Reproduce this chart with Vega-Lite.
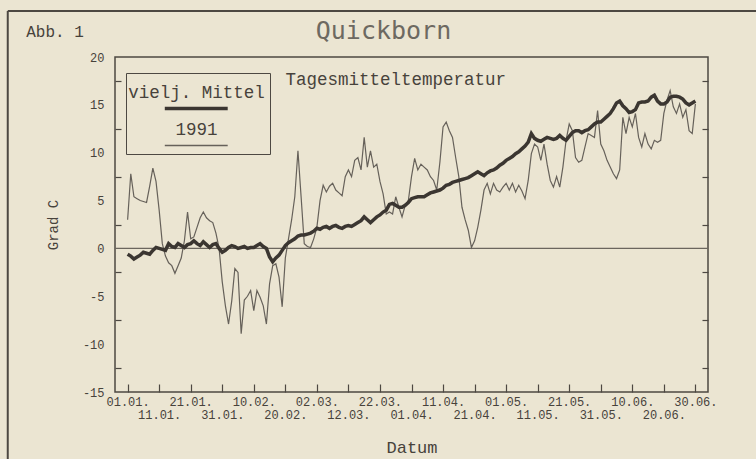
{
  "$schema": "https://vega.github.io/schema/vega-lite/v6.json",
  "width": 593,
  "height": 335,
  "autosize": "none",
  "padding": {"left": 115, "top": 57, "right": 48, "bottom": 67},
  "background": "#ebe5d2",
  "title": {"text": "Quickborn", "frame": "group", "font": "DejaVu Sans Mono", "fontSize": 25, "fontWeight": "normal", "color": "#6d6961", "anchor": "middle", "dx": -28, "offset": -34},
  "data": {"values": [
    {"tag":"1991-01-01","mittel":-0.6,"jahr1991":3.0},
    {"tag":"1991-01-02","mittel":-0.8,"jahr1991":7.8},
    {"tag":"1991-01-03","mittel":-1.1,"jahr1991":5.4},
    {"tag":"1991-01-04","mittel":-0.9,"jahr1991":5.2},
    {"tag":"1991-01-05","mittel":-0.7,"jahr1991":5.0},
    {"tag":"1991-01-06","mittel":-0.4,"jahr1991":4.9},
    {"tag":"1991-01-07","mittel":-0.5,"jahr1991":4.8},
    {"tag":"1991-01-08","mittel":-0.6,"jahr1991":6.5},
    {"tag":"1991-01-09","mittel":-0.2,"jahr1991":8.4},
    {"tag":"1991-01-10","mittel":0.1,"jahr1991":7.0},
    {"tag":"1991-01-11","mittel":0.0,"jahr1991":4.0},
    {"tag":"1991-01-12","mittel":-0.1,"jahr1991":0.5},
    {"tag":"1991-01-13","mittel":-0.2,"jahr1991":-0.8},
    {"tag":"1991-01-14","mittel":0.5,"jahr1991":-1.5},
    {"tag":"1991-01-15","mittel":0.2,"jahr1991":-1.8},
    {"tag":"1991-01-16","mittel":0.1,"jahr1991":-2.6},
    {"tag":"1991-01-17","mittel":0.5,"jahr1991":-1.8},
    {"tag":"1991-01-18","mittel":0.3,"jahr1991":-1.0},
    {"tag":"1991-01-19","mittel":0.1,"jahr1991":0.8},
    {"tag":"1991-01-20","mittel":0.4,"jahr1991":3.8},
    {"tag":"1991-01-21","mittel":0.5,"jahr1991":1.0},
    {"tag":"1991-01-22","mittel":0.8,"jahr1991":1.2},
    {"tag":"1991-01-23","mittel":0.5,"jahr1991":2.2},
    {"tag":"1991-01-24","mittel":0.3,"jahr1991":3.2},
    {"tag":"1991-01-25","mittel":0.7,"jahr1991":3.8},
    {"tag":"1991-01-26","mittel":0.4,"jahr1991":3.2},
    {"tag":"1991-01-27","mittel":0.1,"jahr1991":2.9},
    {"tag":"1991-01-28","mittel":0.4,"jahr1991":2.7},
    {"tag":"1991-01-29","mittel":0.5,"jahr1991":1.6},
    {"tag":"1991-01-30","mittel":0.0,"jahr1991":0.0},
    {"tag":"1991-01-31","mittel":-0.4,"jahr1991":-3.5},
    {"tag":"1991-02-01","mittel":-0.2,"jahr1991":-6.0},
    {"tag":"1991-02-02","mittel":0.1,"jahr1991":-7.9},
    {"tag":"1991-02-03","mittel":0.3,"jahr1991":-5.5},
    {"tag":"1991-02-04","mittel":0.2,"jahr1991":-2.1},
    {"tag":"1991-02-05","mittel":0.0,"jahr1991":-2.5},
    {"tag":"1991-02-06","mittel":0.1,"jahr1991":-8.9},
    {"tag":"1991-02-07","mittel":0.2,"jahr1991":-5.4},
    {"tag":"1991-02-08","mittel":0.0,"jahr1991":-5.0},
    {"tag":"1991-02-09","mittel":0.1,"jahr1991":-4.4},
    {"tag":"1991-02-10","mittel":0.1,"jahr1991":-6.5},
    {"tag":"1991-02-11","mittel":0.3,"jahr1991":-4.4},
    {"tag":"1991-02-12","mittel":0.5,"jahr1991":-5.1},
    {"tag":"1991-02-13","mittel":0.2,"jahr1991":-6.0},
    {"tag":"1991-02-14","mittel":0.0,"jahr1991":-7.9},
    {"tag":"1991-02-15","mittel":-0.9,"jahr1991":-3.7},
    {"tag":"1991-02-16","mittel":-1.4,"jahr1991":-1.8},
    {"tag":"1991-02-17","mittel":-1.0,"jahr1991":-1.6},
    {"tag":"1991-02-18","mittel":-0.7,"jahr1991":-3.0},
    {"tag":"1991-02-19","mittel":-0.2,"jahr1991":-6.1},
    {"tag":"1991-02-20","mittel":0.3,"jahr1991":-1.0},
    {"tag":"1991-02-21","mittel":0.6,"jahr1991":1.0},
    {"tag":"1991-02-22","mittel":0.8,"jahr1991":3.0},
    {"tag":"1991-02-23","mittel":1.0,"jahr1991":5.4},
    {"tag":"1991-02-24","mittel":1.3,"jahr1991":10.2},
    {"tag":"1991-02-25","mittel":1.4,"jahr1991":5.4},
    {"tag":"1991-02-26","mittel":1.4,"jahr1991":0.5},
    {"tag":"1991-02-27","mittel":1.5,"jahr1991":0.2},
    {"tag":"1991-02-28","mittel":1.6,"jahr1991":0.1},
    {"tag":"1991-03-01","mittel":1.8,"jahr1991":1.0},
    {"tag":"1991-03-02","mittel":2.1,"jahr1991":2.2},
    {"tag":"1991-03-03","mittel":2.0,"jahr1991":5.0},
    {"tag":"1991-03-04","mittel":2.2,"jahr1991":6.6},
    {"tag":"1991-03-05","mittel":2.3,"jahr1991":5.9},
    {"tag":"1991-03-06","mittel":2.1,"jahr1991":6.5},
    {"tag":"1991-03-07","mittel":2.3,"jahr1991":6.8},
    {"tag":"1991-03-08","mittel":2.4,"jahr1991":6.1},
    {"tag":"1991-03-09","mittel":2.2,"jahr1991":5.8},
    {"tag":"1991-03-10","mittel":2.1,"jahr1991":5.5},
    {"tag":"1991-03-11","mittel":2.3,"jahr1991":7.5},
    {"tag":"1991-03-12","mittel":2.4,"jahr1991":8.2},
    {"tag":"1991-03-13","mittel":2.3,"jahr1991":7.5},
    {"tag":"1991-03-14","mittel":2.5,"jahr1991":9.2},
    {"tag":"1991-03-15","mittel":2.7,"jahr1991":9.5},
    {"tag":"1991-03-16","mittel":2.9,"jahr1991":8.2},
    {"tag":"1991-03-17","mittel":3.3,"jahr1991":11.6},
    {"tag":"1991-03-18","mittel":3.0,"jahr1991":8.5},
    {"tag":"1991-03-19","mittel":2.7,"jahr1991":10.2},
    {"tag":"1991-03-20","mittel":3.0,"jahr1991":8.5},
    {"tag":"1991-03-21","mittel":3.3,"jahr1991":8.8},
    {"tag":"1991-03-22","mittel":3.5,"jahr1991":7.0},
    {"tag":"1991-03-23","mittel":3.8,"jahr1991":5.7},
    {"tag":"1991-03-24","mittel":4.0,"jahr1991":3.6},
    {"tag":"1991-03-25","mittel":4.6,"jahr1991":3.8},
    {"tag":"1991-03-26","mittel":4.7,"jahr1991":3.6},
    {"tag":"1991-03-27","mittel":4.5,"jahr1991":5.4},
    {"tag":"1991-03-28","mittel":4.3,"jahr1991":4.3},
    {"tag":"1991-03-29","mittel":4.3,"jahr1991":3.3},
    {"tag":"1991-03-30","mittel":4.5,"jahr1991":4.5},
    {"tag":"1991-03-31","mittel":4.8,"jahr1991":5.0},
    {"tag":"1991-04-01","mittel":5.2,"jahr1991":7.5},
    {"tag":"1991-04-02","mittel":5.3,"jahr1991":9.4},
    {"tag":"1991-04-03","mittel":5.4,"jahr1991":8.2},
    {"tag":"1991-04-04","mittel":5.4,"jahr1991":8.8},
    {"tag":"1991-04-05","mittel":5.4,"jahr1991":8.5},
    {"tag":"1991-04-06","mittel":5.6,"jahr1991":8.2},
    {"tag":"1991-04-07","mittel":5.8,"jahr1991":7.5},
    {"tag":"1991-04-08","mittel":5.9,"jahr1991":7.1},
    {"tag":"1991-04-09","mittel":6.0,"jahr1991":6.1},
    {"tag":"1991-04-10","mittel":6.1,"jahr1991":9.0},
    {"tag":"1991-04-11","mittel":6.3,"jahr1991":12.7},
    {"tag":"1991-04-12","mittel":6.6,"jahr1991":13.2},
    {"tag":"1991-04-13","mittel":6.7,"jahr1991":12.3},
    {"tag":"1991-04-14","mittel":6.9,"jahr1991":11.6},
    {"tag":"1991-04-15","mittel":7.0,"jahr1991":9.5},
    {"tag":"1991-04-16","mittel":7.1,"jahr1991":7.5},
    {"tag":"1991-04-17","mittel":7.2,"jahr1991":4.3},
    {"tag":"1991-04-18","mittel":7.3,"jahr1991":3.0},
    {"tag":"1991-04-19","mittel":7.4,"jahr1991":1.9},
    {"tag":"1991-04-20","mittel":7.6,"jahr1991":0.1},
    {"tag":"1991-04-21","mittel":7.8,"jahr1991":0.8},
    {"tag":"1991-04-22","mittel":8.0,"jahr1991":2.2},
    {"tag":"1991-04-23","mittel":7.8,"jahr1991":4.0},
    {"tag":"1991-04-24","mittel":7.6,"jahr1991":6.1},
    {"tag":"1991-04-25","mittel":7.9,"jahr1991":6.8},
    {"tag":"1991-04-26","mittel":8.1,"jahr1991":5.7},
    {"tag":"1991-04-27","mittel":8.2,"jahr1991":6.8},
    {"tag":"1991-04-28","mittel":8.4,"jahr1991":6.1},
    {"tag":"1991-04-29","mittel":8.7,"jahr1991":5.9},
    {"tag":"1991-04-30","mittel":8.9,"jahr1991":6.4},
    {"tag":"1991-05-01","mittel":9.2,"jahr1991":6.8},
    {"tag":"1991-05-02","mittel":9.4,"jahr1991":6.1},
    {"tag":"1991-05-03","mittel":9.6,"jahr1991":6.8},
    {"tag":"1991-05-04","mittel":9.9,"jahr1991":5.9},
    {"tag":"1991-05-05","mittel":10.1,"jahr1991":6.6},
    {"tag":"1991-05-06","mittel":10.4,"jahr1991":6.0},
    {"tag":"1991-05-07","mittel":10.7,"jahr1991":5.2},
    {"tag":"1991-05-08","mittel":11.1,"jahr1991":7.1},
    {"tag":"1991-05-09","mittel":12.0,"jahr1991":9.9},
    {"tag":"1991-05-10","mittel":11.5,"jahr1991":10.9},
    {"tag":"1991-05-11","mittel":11.3,"jahr1991":10.6},
    {"tag":"1991-05-12","mittel":11.2,"jahr1991":9.2},
    {"tag":"1991-05-13","mittel":11.4,"jahr1991":10.9},
    {"tag":"1991-05-14","mittel":11.6,"jahr1991":8.8},
    {"tag":"1991-05-15","mittel":11.5,"jahr1991":7.1},
    {"tag":"1991-05-16","mittel":11.4,"jahr1991":6.4},
    {"tag":"1991-05-17","mittel":11.5,"jahr1991":7.5},
    {"tag":"1991-05-18","mittel":11.8,"jahr1991":6.4},
    {"tag":"1991-05-19","mittel":11.5,"jahr1991":8.5},
    {"tag":"1991-05-20","mittel":11.3,"jahr1991":11.3},
    {"tag":"1991-05-21","mittel":11.7,"jahr1991":13.0},
    {"tag":"1991-05-22","mittel":12.1,"jahr1991":12.3},
    {"tag":"1991-05-23","mittel":12.3,"jahr1991":9.5},
    {"tag":"1991-05-24","mittel":12.3,"jahr1991":9.0},
    {"tag":"1991-05-25","mittel":12.1,"jahr1991":9.2},
    {"tag":"1991-05-26","mittel":12.3,"jahr1991":10.6},
    {"tag":"1991-05-27","mittel":12.4,"jahr1991":12.0},
    {"tag":"1991-05-28","mittel":12.7,"jahr1991":11.8},
    {"tag":"1991-05-29","mittel":13.0,"jahr1991":11.6},
    {"tag":"1991-05-30","mittel":13.2,"jahr1991":14.4},
    {"tag":"1991-05-31","mittel":13.2,"jahr1991":10.9},
    {"tag":"1991-06-01","mittel":13.5,"jahr1991":10.2},
    {"tag":"1991-06-02","mittel":13.8,"jahr1991":9.2},
    {"tag":"1991-06-03","mittel":14.1,"jahr1991":8.5},
    {"tag":"1991-06-04","mittel":14.6,"jahr1991":7.8},
    {"tag":"1991-06-05","mittel":15.2,"jahr1991":7.3},
    {"tag":"1991-06-06","mittel":15.4,"jahr1991":8.2},
    {"tag":"1991-06-07","mittel":14.9,"jahr1991":13.7},
    {"tag":"1991-06-08","mittel":14.6,"jahr1991":12.0},
    {"tag":"1991-06-09","mittel":14.2,"jahr1991":13.7},
    {"tag":"1991-06-10","mittel":14.3,"jahr1991":12.7},
    {"tag":"1991-06-11","mittel":14.5,"jahr1991":14.1},
    {"tag":"1991-06-12","mittel":15.2,"jahr1991":11.6},
    {"tag":"1991-06-13","mittel":15.3,"jahr1991":10.6},
    {"tag":"1991-06-14","mittel":15.3,"jahr1991":12.0},
    {"tag":"1991-06-15","mittel":15.4,"jahr1991":10.9},
    {"tag":"1991-06-16","mittel":15.8,"jahr1991":10.4},
    {"tag":"1991-06-17","mittel":16.0,"jahr1991":11.3},
    {"tag":"1991-06-18","mittel":15.4,"jahr1991":11.1},
    {"tag":"1991-06-19","mittel":15.1,"jahr1991":11.3},
    {"tag":"1991-06-20","mittel":15.1,"jahr1991":14.1},
    {"tag":"1991-06-21","mittel":15.3,"jahr1991":15.5},
    {"tag":"1991-06-22","mittel":15.8,"jahr1991":16.5},
    {"tag":"1991-06-23","mittel":15.9,"jahr1991":14.8},
    {"tag":"1991-06-24","mittel":15.9,"jahr1991":14.1},
    {"tag":"1991-06-25","mittel":15.8,"jahr1991":15.1},
    {"tag":"1991-06-26","mittel":15.6,"jahr1991":13.7},
    {"tag":"1991-06-27","mittel":15.2,"jahr1991":14.5},
    {"tag":"1991-06-28","mittel":15.0,"jahr1991":12.3},
    {"tag":"1991-06-29","mittel":15.2,"jahr1991":12.0},
    {"tag":"1991-06-30","mittel":15.4,"jahr1991":15.1}
  ]},
  "layer": [
    {
      "data": {"values": [{}]},
      "mark": {"type": "rule", "color": "#6b665e", "strokeWidth": 1.3},
      "encoding": {"y": {"datum": 0, "type": "quantitative", "axis": null}}
    },
    {
      "mark": {"type": "line", "strokeWidth": 1.2},
      "encoding": {
        "x": {"field": "tag", "type": "temporal",
          "scale": {"type": "utc", "domain": [{"year": 1990, "month": 12, "date": 28, "utc": true}, {"year": 1991, "month": 7, "date": 4, "utc": true}]},
          "axis": {
            "orient": "bottom",
            "title": null,
            "values": [
              {"year":1991,"month":1,"date":1,"utc":true},{"year":1991,"month":1,"date":11,"utc":true},{"year":1991,"month":1,"date":21,"utc":true},{"year":1991,"month":1,"date":31,"utc":true},
              {"year":1991,"month":2,"date":10,"utc":true},{"year":1991,"month":2,"date":20,"utc":true},{"year":1991,"month":3,"date":2,"utc":true},{"year":1991,"month":3,"date":12,"utc":true},
              {"year":1991,"month":3,"date":22,"utc":true},{"year":1991,"month":4,"date":1,"utc":true},{"year":1991,"month":4,"date":11,"utc":true},{"year":1991,"month":4,"date":21,"utc":true},
              {"year":1991,"month":5,"date":1,"utc":true},{"year":1991,"month":5,"date":11,"utc":true},{"year":1991,"month":5,"date":21,"utc":true},{"year":1991,"month":5,"date":31,"utc":true},
              {"year":1991,"month":6,"date":10,"utc":true},{"year":1991,"month":6,"date":20,"utc":true},{"year":1991,"month":6,"date":30,"utc":true}
            ],
            "labelExpr": "round((datum.value - utc(1991,0,1)) / 864000000) % 2 === 0 ? utcFormat(datum.value, '%d.%m.') : ''",
            "labelOverlap": false,
            "labelFlush": false,
            "labelFontSize": 12,
            "tickSize": -8,
            "labelPadding": 12,
            "domain": false,
            "grid": false
          }
        },
        "y": {"field": "jahr1991", "type": "quantitative",
          "scale": {"domain": [-15, 20], "nice": false, "zero": false},
          "axis": {"orient": "right", "values": [-12.5, -7.5, -2.5, 2.5, 7.5, 12.5, 17.5], "labels": false, "tickSize": -6, "domain": false, "grid": false, "title": null}
        },
        "color": {"datum": "1991", "type": "nominal",
          "scale": {"domain": ["vielj. Mittel", "1991"], "range": ["#3b3631", "#66615a"]},
          "legend": {"title": "            ", "titleFont": "Liberation Mono", "titleFontSize": 17.4, "titlePadding": -2.4, "orient": "none", "legendX": 11, "legendY": 16, "padding": 5, "strokeColor": "#4d4842", "symbolType": "M-2.33,0.5H2.33", "symbolSize": 729, "symbolOffset": 56.5, "labelFont": "Liberation Mono", "labelFontSize": 17.5, "labelColor": "#47423b", "labelAlign": "center", "labelBaseline": "bottom", "labelOffset": -8.5, "rowPadding": 4,
            "encode": {"symbols": {"update": {"strokeWidth": {"signal": "datum.value === 'vielj. Mittel' ? 3.5 : 1.3"}}}}}
        }
      }
    },
    {
      "mark": {"type": "line", "strokeWidth": 3.5},
      "encoding": {
        "x": {"field": "tag", "type": "temporal",
          "scale": {"type": "utc", "domain": [{"year": 1990, "month": 12, "date": 28, "utc": true}, {"year": 1991, "month": 7, "date": 4, "utc": true}]},
          "axis": {
            "orient": "bottom",
            "title": "Datum",
            "values": [
              {"year":1991,"month":1,"date":1,"utc":true},{"year":1991,"month":1,"date":11,"utc":true},{"year":1991,"month":1,"date":21,"utc":true},{"year":1991,"month":1,"date":31,"utc":true},
              {"year":1991,"month":2,"date":10,"utc":true},{"year":1991,"month":2,"date":20,"utc":true},{"year":1991,"month":3,"date":2,"utc":true},{"year":1991,"month":3,"date":12,"utc":true},
              {"year":1991,"month":3,"date":22,"utc":true},{"year":1991,"month":4,"date":1,"utc":true},{"year":1991,"month":4,"date":11,"utc":true},{"year":1991,"month":4,"date":21,"utc":true},
              {"year":1991,"month":5,"date":1,"utc":true},{"year":1991,"month":5,"date":11,"utc":true},{"year":1991,"month":5,"date":21,"utc":true},{"year":1991,"month":5,"date":31,"utc":true},
              {"year":1991,"month":6,"date":10,"utc":true},{"year":1991,"month":6,"date":20,"utc":true},{"year":1991,"month":6,"date":30,"utc":true}
            ],
            "labelExpr": "round((datum.value - utc(1991,0,1)) / 864000000) % 2 === 1 ? utcFormat(datum.value, '%d.%m.') : ''",
            "labelOverlap": false,
            "labelFlush": false,
            "labelFontSize": 12,
            "ticks": false,
            "labelPadding": 17,
            "titleFontSize": 17,
            "titlePadding": 19,
            "domain": false,
            "grid": false
          }
        },
        "y": {"field": "mittel", "type": "quantitative",
          "scale": {"domain": [-15, 20], "nice": false, "zero": false},
          "axis": {"orient": "left", "title": "Grad C", "titleFontSize": 14, "titlePadding": 22,
            "values": [-15, -12.5, -10, -7.5, -5, -2.5, 0, 2.5, 5, 7.5, 10, 12.5, 15, 17.5, 20],
            "labelExpr": "datum.value % 5 === 0 ? '' + datum.value : ''",
            "tickOpacity": {"condition": {"test": "datum.value % 5 !== 0", "value": 1}, "value": 0},
            "tickSize": -6, "labelPadding": 17, "labelFontSize": 12, "domain": false, "grid": false}
        },
        "color": {"datum": "vielj. Mittel", "type": "nominal",
          "legend": {"title": "            ", "titleFont": "Liberation Mono", "titleFontSize": 17.4, "titlePadding": -2.4, "orient": "none", "legendX": 11, "legendY": 16, "padding": 5, "strokeColor": "#4d4842", "symbolType": "M-2.33,0.5H2.33", "symbolSize": 729, "symbolOffset": 56.5, "labelFont": "Liberation Mono", "labelFontSize": 17.5, "labelColor": "#47423b", "labelAlign": "center", "labelBaseline": "bottom", "labelOffset": -8.5, "rowPadding": 4,
            "encode": {"symbols": {"update": {"strokeWidth": {"signal": "datum.value === 'vielj. Mittel' ? 3.5 : 1.3"}}}}}
        }
      }
    },
    {
      "data": {"values": [{}]},
      "mark": {"type": "text", "font": "Liberation Mono", "fontSize": 17.5, "color": "#47423b", "align": "center", "baseline": "middle"},
      "encoding": {
        "x": {"datum": {"year": 1991, "month": 3, "date": 27, "utc": true}, "type": "temporal", "axis": null},
        "y": {"datum": 17.6, "type": "quantitative", "axis": null},
        "text": {"value": "Tagesmitteltemperatur"}
      }
    },
    {
      "data": {"values": [{}]},
      "mark": {"type": "text", "font": "Liberation Mono", "fontSize": 16, "color": "#47423b", "align": "center", "baseline": "middle"},
      "encoding": {
        "x": {"datum": {"year": 1990, "month": 12, "date": 9, "utc": true}, "type": "temporal", "axis": null},
        "y": {"datum": 22.6, "type": "quantitative", "axis": null},
        "text": {"value": "Abb. 1"}
      }
    },
    {
      "data": {"values": [{}]},
      "mark": {"type": "rule", "color": "#4d4842", "strokeWidth": 2},
      "encoding": {
        "x": {"datum": {"year": 1990, "month": 11, "date": 24, "utc": true}, "type": "temporal", "axis": null},
        "y": {"datum": 24.8, "type": "quantitative", "axis": null},
        "y2": {"datum": -26}
      }
    },
    {
      "data": {"values": [{}]},
      "mark": {"type": "rule", "color": "#4d4842", "strokeWidth": 2},
      "encoding": {
        "x": {"datum": {"year": 1990, "month": 11, "date": 24, "utc": true}, "type": "temporal", "axis": null},
        "x2": {"datum": {"year": 1991, "month": 9, "date": 30, "utc": true}},
        "y": {"datum": 24.8, "type": "quantitative", "axis": null}
      }
    }
  ],
  "resolve": {"axis": {"x": "independent", "y": "independent"}},
  "config": {
    "font": "Liberation Mono",
    "view": {"stroke": "#4d4842", "strokeWidth": 1.5},
    "axis": {"labelFont": "Liberation Mono", "titleFont": "Liberation Mono", "labelColor": "#47423b", "titleColor": "#47423b", "titleFontWeight": "normal", "tickColor": "#4d4842", "tickWidth": 1.2}
  }
}
